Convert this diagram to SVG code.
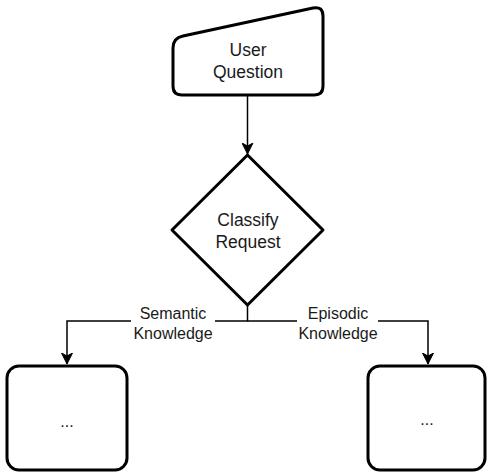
<svg xmlns="http://www.w3.org/2000/svg" width="487" height="475" viewBox="0 0 487 475">
<style>
.node{fill:#fff;stroke:#000;stroke-width:3;stroke-linejoin:round}
.edge{fill:none;stroke:#000;stroke-width:1.5}
.t{font-family:"Liberation Sans",Arial,sans-serif;font-size:17.5px;fill:#1a1a1a;text-anchor:middle}
.l{font-family:"Liberation Sans",Arial,sans-serif;font-size:16px;fill:#1a1a1a;text-anchor:middle}
</style>
<defs>
<marker id="arr" viewBox="0 0 12 12" refX="11" refY="6" markerWidth="12" markerHeight="12" markerUnits="userSpaceOnUse" orient="auto">
<path d="M0,0.5 L11,6 L0,11.5 L3,6 Z" fill="#000" stroke="#000" stroke-width="1"/>
</marker>
</defs>
<g id="connectors">
<path class="edge" d="M247.5,95 V154" marker-end="url(#arr)"/>
<path class="edge" d="M247.5,305 V321 H67 V364" marker-end="url(#arr)"/>
<path class="edge" d="M247.5,321 H428 V364" marker-end="url(#arr)"/>
</g>
<g id="edge-labels">
<rect x="131" y="301" width="84" height="40" fill="#fff"/>
<text class="l" x="173" y="319">Semantic</text>
<text class="l" x="173" y="339">Knowledge</text>
<rect x="297" y="301" width="81" height="40" fill="#fff"/>
<text class="l" x="338" y="319">Episodic</text>
<text class="l" x="338" y="339">Knowledge</text>
</g>
<g id="user-question">
<path class="node" d="M183,36 L313,8 Q323,6 323,16 L323,86 Q323,95 314,95 L182,95 Q173,95 173,86 L173,48 Q173,38 183,36 Z"/>
<text class="t" x="248" y="56">User</text>
<text class="t" x="248" y="78">Question</text>
</g>
<g id="classify-request">
<path class="node" d="M247.5,155 L323,230 L247.5,305 L172,230 Z"/>
<text class="t" x="248" y="226">Classify</text>
<text class="t" x="248" y="248">Request</text>
</g>
<g id="semantic-box">
<rect class="node" x="7" y="366" width="120" height="104" rx="12"/>
<text class="l" x="67" y="427">...</text>
</g>
<g id="episodic-box">
<rect class="node" x="368" y="366" width="117" height="104" rx="12"/>
<text class="l" x="427" y="425">...</text>
</g>
</svg>
